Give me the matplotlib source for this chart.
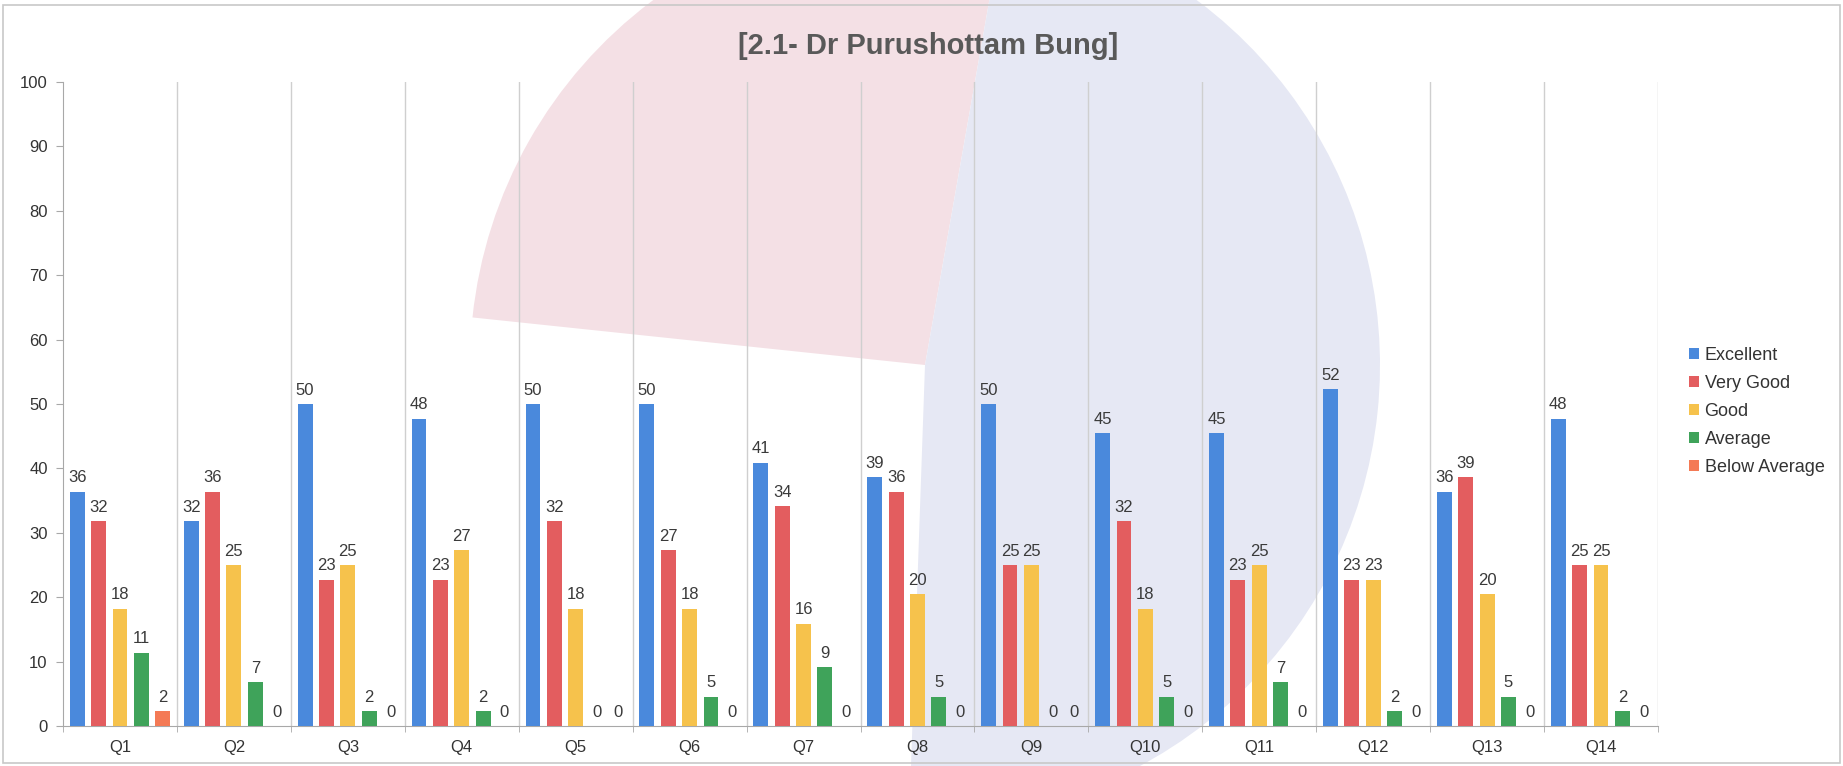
import matplotlib.pyplot as plt
import numpy as np
from matplotlib.patches import Wedge, Rectangle

plt.rcParams['font.family'] = ['Liberation Sans', 'DejaVu Sans']

questions = ["Q1", "Q2", "Q3", "Q4", "Q5", "Q6", "Q7", "Q8", "Q9", "Q10", "Q11", "Q12", "Q13", "Q14"]
series_names = ["Excellent", "Very Good", "Good", "Average", "Below Average"]

excellent = [36.36, 31.82, 50.00, 47.73, 50.00, 50.00, 40.91, 38.64, 50.00, 45.45, 45.45, 52.27, 36.36, 47.73]
very_good = [31.82, 36.36, 22.73, 22.73, 31.82, 27.27, 34.09, 36.36, 25.00, 31.82, 22.73, 22.73, 38.64, 25.00]
good = [18.18, 25.00, 25.00, 27.27, 18.18, 18.18, 15.91, 20.45, 25.00, 18.18, 25.00, 22.73, 20.45, 25.00]
average = [11.36, 6.82, 2.27, 2.27, 0, 4.55, 9.09, 4.55, 0, 4.55, 6.82, 2.27, 4.55, 2.27]
below_average = [2.27, 0, 0, 0, 0, 0, 0, 0, 0, 0, 0, 0, 0, 0]

colors = ["#4a89dc", "#e35d5f", "#f6c24c", "#3fa35a", "#f47a55"]

W, H = 1843, 766
fig = plt.figure(figsize=(W / 100, H / 100), dpi=100)

# background: faint scanned watermark + outer border (pixel coords, y up)
bg = fig.add_axes([0, 0, 1, 1], zorder=0)
bg.set_xlim(0, W)
bg.set_ylim(0, H)
bg.axis('off')
cx, cy, R = 925, H - 365, 455
bg.add_patch(Wedge((cx, cy), R, 80, 174, facecolor="#f4e0e5", edgecolor="none"))
bg.add_patch(Wedge((cx, cy), R, -92, 80, facecolor="#e6e8f4", edgecolor="none"))
bg.add_patch(Rectangle((3, 3), W - 6, H - 8, facecolor="none", edgecolor="#c8c8c8", lw=1.2))

ax = fig.add_axes([63 / W, 1 - 726 / H, (1658 - 63) / W, (726 - 82) / H], zorder=1)
ax.patch.set_alpha(0)

data = [excellent, very_good, good, average, below_average]
x = np.arange(1, len(questions) + 1)
step = 0.1875
width = 0.13
for j, (name, vals, col) in enumerate(zip(series_names, data, colors)):
    pos = x + (j - 2) * step
    ax.bar(pos, vals, width, color=col, label=name, zorder=3)
    for p, v in zip(pos, vals):
        ax.text(p, v + 1.0, f"{v:.0f}", ha='center', va='bottom', fontsize=12, color="#3a3a3a", zorder=4)

ax.set_xlim(0.5, len(questions) + 0.5)
ax.set_ylim(0, 100)
ax.set_yticks(np.arange(0, 101, 10))
ax.set_xticks(x)
ax.set_xticklabels(questions)
ax.set_xticks(np.arange(0.5, len(questions) + 1, 1), minor=True)
ax.tick_params(axis='x', which='major', length=0, pad=10, labelsize=12, labelcolor="#333333")
ax.tick_params(axis='x', which='minor', length=4, color="#a8a8a8")
ax.tick_params(axis='y', length=5, color="#a8a8a8", labelsize=12, labelcolor="#333333", pad=6)
for b in np.arange(1.5, len(questions) + 1, 1):
    ax.axvline(b, color="#cfcfcf", lw=1, zorder=1)
for s in ['top', 'right']:
    ax.spines[s].set_visible(False)
for s in ['left', 'bottom']:
    ax.spines[s].set_color("#a8a8a8")

fig.text(928 / W, 1 - 46 / H, "[2.1- Dr Purushottam Bung]", ha='center', va='center',
         fontsize=21, fontweight='bold', color="#595959")

fig.legend(loc='upper left', bbox_to_anchor=(1682 / W, 1 - 340 / H), frameon=False,
           fontsize=13, handlelength=0.55, handleheight=0.55, handletextpad=0.3,
           labelspacing=0.6, borderaxespad=0, labelcolor="#333333")

fig.savefig("out.png", dpi=100)
